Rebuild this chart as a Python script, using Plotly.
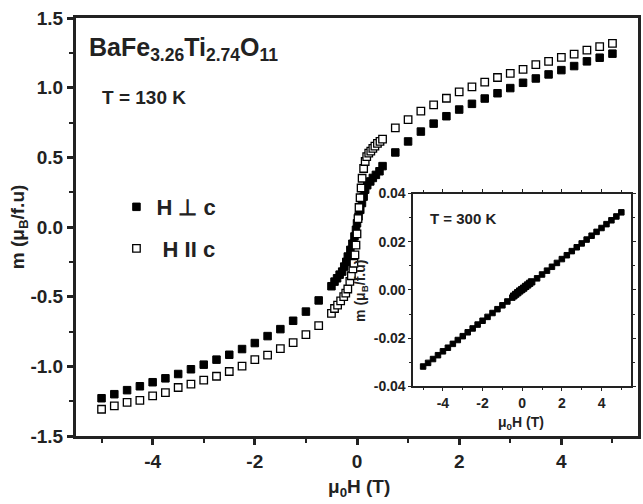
import plotly.graph_objects as go

# ---- main panel: T = 130 K, two field orientations ----
h_perp = [-5.0, -4.75, -4.5, -4.25, -4.0, -3.75, -3.5, -3.25, -3.0, -2.75, -2.5, -2.25,
          -2.0, -1.75, -1.5, -1.25, -1.0, -0.75,
          -0.5, -0.44, -0.39, -0.34, -0.29, -0.25, -0.21, -0.18, -0.13, -0.09, -0.05, -0.02,
          0.0, 0.03, 0.064, 0.097, 0.13, 0.16, 0.2, 0.26, 0.31, 0.37, 0.44, 0.5,
          0.75, 1.0, 1.25, 1.5, 1.75, 2.0, 2.25, 2.5, 2.75, 3.0, 3.25, 3.5, 3.75, 4.0,
          4.25, 4.5, 4.75, 5.0]
m_perp = [-1.229, -1.2, -1.171, -1.143, -1.114, -1.086, -1.055, -1.021, -0.988, -0.952, -0.917, -0.876,
          -0.833, -0.783, -0.733, -0.673, -0.607, -0.527,
          -0.425, -0.392, -0.368, -0.342, -0.32, -0.284, -0.25, -0.212, -0.164, -0.12, -0.068, -0.02,
          0.027, 0.076, 0.123, 0.172, 0.218, 0.268, 0.30, 0.327, 0.352, 0.374, 0.40, 0.437,
          0.535, 0.614, 0.685, 0.742, 0.795, 0.843, 0.884, 0.922, 0.96, 0.997, 1.035, 1.066, 1.095, 1.126,
          1.155, 1.189, 1.215, 1.244]

h_par = [-5.0, -4.75, -4.5, -4.25, -4.0, -3.75, -3.5, -3.25, -3.0, -2.75, -2.5, -2.25,
         -2.0, -1.75, -1.5, -1.25, -1.0, -0.75,
         -0.5, -0.44, -0.38, -0.32, -0.26, -0.22, -0.18, -0.14, -0.11, -0.08, -0.06, -0.04, -0.02,
         0.0, 0.02, 0.04, 0.06, 0.08, 0.1, 0.13, 0.16, 0.19, 0.23, 0.27, 0.31, 0.35, 0.4, 0.45, 0.5,
         0.75, 1.0, 1.25, 1.5, 1.75, 2.0, 2.25, 2.5, 2.75, 3.0, 3.25, 3.5, 3.75, 4.0,
         4.25, 4.5, 4.75, 5.0]
m_par = [-1.308, -1.284, -1.258, -1.244, -1.212, -1.188, -1.152, -1.128, -1.099, -1.071, -1.037, -0.999,
         -0.952, -0.92, -0.873, -0.83, -0.773, -0.708,
         -0.62, -0.585, -0.56, -0.53, -0.5, -0.475, -0.445, -0.39, -0.35, -0.3, -0.26, -0.2, -0.13,
         -0.05, 0.06, 0.14, 0.21, 0.28, 0.35, 0.42, 0.47, 0.505, 0.53, 0.545, 0.565, 0.58, 0.6, 0.615, 0.63,
         0.711, 0.771, 0.831, 0.877, 0.924, 0.97, 1.006, 1.04, 1.073, 1.102, 1.131, 1.165, 1.188, 1.217,
         1.241, 1.27, 1.294, 1.318]

# ---- inset: T = 300 K ----
h_300 = [-5.0, -4.75, -4.5, -4.25, -4.0, -3.75, -3.5, -3.25, -3.0, -2.75, -2.5, -2.25,
         -2.0, -1.75, -1.5, -1.25, -1.0, -0.75, -0.5, -0.4, -0.3, -0.2, -0.1, 0.0,
         0.1, 0.2, 0.3, 0.4, 0.5, 0.75, 1.0, 1.25, 1.5, 1.75, 2.0, 2.25, 2.5, 2.75,
         3.0, 3.25, 3.5, 3.75, 4.0, 4.25, 4.5, 4.75, 5.0,
         -0.45, -0.35, -0.25, -0.15, -0.05, 0.05, 0.15, 0.25, 0.35, 0.45]
m_300 = [-0.0318, -0.0303, -0.0287, -0.0271, -0.0255, -0.0240, -0.0224, -0.0208, -0.0192, -0.0176, -0.0160, -0.0144,
         -0.0128, -0.0112, -0.0096, -0.0080, -0.0064, -0.0048, -0.0032, -0.0026, -0.0019, -0.0013, -0.0006, 0.0,
         0.0006, 0.0013, 0.0019, 0.0026, 0.0032, 0.0048, 0.0064, 0.0080, 0.0096, 0.0112, 0.0128, 0.0144, 0.0161, 0.0177,
         0.0193, 0.0209, 0.0225, 0.0241, 0.0257, 0.0273, 0.0289, 0.0305, 0.0322,
         -0.0024, -0.0017, -0.0010, -0.0003, 0.0003, 0.0009, 0.0016, 0.0022, 0.0029, 0.0035]

main_xticks = [-4, -2, 0, 2, 4]
main_xlabels = ["-4", "-2", "0", "2", "4"]
main_yticks = [-1.5, -1.0, -0.5, 0.0, 0.5, 1.0, 1.5]
main_ylabels = ["-1.5", "-1.0", "-0.5", "0.0", "0.5", "1.0", "1.5"]
inset_xticks = [-4, -2, 0, 2, 4]
inset_xlabels = ["-4", "-2", "0", "2", "4"]
inset_yticks = [-0.04, -0.02, 0.0, 0.02, 0.04]
inset_ylabels = ["-0.04", "-0.02", "0.00", "0.02", "0.04"]

FONT = "Arial, Liberation Sans, Helvetica, sans-serif"

fig = go.Figure()
fig.add_trace(go.Scatter(
    x=h_perp, y=m_perp, mode="markers", name="H \u22a5 c", legendgroup="a",
    marker=dict(symbol="square", size=7.5, color="black", line=dict(color="black", width=1)),
))
fig.add_trace(go.Scatter(
    x=h_par, y=m_par, mode="markers", name="\u00a0H II c", legendgroup="b",
    marker=dict(symbol="square", size=7.5, color="white", line=dict(color="black", width=1.3)),
))
fig.add_trace(go.Scatter(
    x=h_300, y=m_300, mode="markers", showlegend=False, xaxis="x2", yaxis="y2",
    marker=dict(symbol="square", size=5.5, color="black", line=dict(color="black", width=1)),
))

tickfont_main = dict(family=FONT, size=19, color="#222", weight="bold")
tickfont_inset = dict(family=FONT, size=14, color="#222", weight="bold")

fig.update_layout(
    width=643, height=504,
    margin=dict(l=76, r=2, t=18, b=68),
    paper_bgcolor="white", plot_bgcolor="white",
    showlegend=True,
    legend=dict(x=0.072, y=0.598, xanchor="left", yanchor="top",
                font=dict(family=FONT, size=22, color="#222", weight="bold"),
                bgcolor="rgba(0,0,0,0)", tracegroupgap=10, itemwidth=30),
    xaxis=dict(domain=[0, 1], range=[-5.5, 5.5], showgrid=False, zeroline=False,
               showline=True, linewidth=3, linecolor="#222", mirror=True,
               ticks="outside", ticklen=6, tickwidth=2.5, tickcolor="#222",
               tickvals=main_xticks, ticktext=main_xlabels, tickfont=tickfont_main,
               minor=dict(tickvals=[-5, -3, -1, 1, 3, 5], ticks="outside", ticklen=4,
                          tickwidth=2, tickcolor="#222")),
    yaxis=dict(domain=[0, 1], range=[-1.5, 1.5], showgrid=False, zeroline=False,
               showline=True, linewidth=3, linecolor="#222", mirror=True,
               ticks="outside", ticklen=6, tickwidth=2.5, tickcolor="#222",
               tickvals=main_yticks, ticktext=main_ylabels, tickfont=tickfont_main,
               minor=dict(tickvals=[-1.25, -0.75, -0.25, 0.25, 0.75, 1.25], ticks="outside",
                          ticklen=4, tickwidth=2, tickcolor="#222")),
    xaxis2=dict(domain=[0.600, 0.988], anchor="y2", range=[-5.5, 5.5], showgrid=False,
                zeroline=False, showline=True, linewidth=1.5, linecolor="#222", mirror="ticks",
                ticks="outside", ticklen=3, tickwidth=1.2, tickcolor="#222",
                tickvals=inset_xticks, ticktext=inset_xlabels, tickfont=tickfont_inset,
                minor=dict(tickvals=[-5, -3, -1, 1, 3, 5], ticks="outside", ticklen=2,
                           tickwidth=1, tickcolor="#222")),
    yaxis2=dict(domain=[0.119, 0.580], anchor="x2", range=[-0.04, 0.04], showgrid=False,
                zeroline=False, showline=True, linewidth=1.5, linecolor="#222", mirror="ticks",
                ticks="outside", ticklen=3, tickwidth=1.2, tickcolor="#222",
                tickvals=inset_yticks, ticktext=inset_ylabels, tickfont=tickfont_inset,
                minor=dict(tickvals=[-0.03, -0.01, 0.01, 0.03], ticks="outside", ticklen=2,
                           tickwidth=1, tickcolor="#222")),
)

def note(text, x, y, size, xanchor="left", angle=0):
    fig.add_annotation(text=text, x=x, y=y, xref="paper", yref="paper",
                       xanchor=xanchor, yanchor="middle", showarrow=False, textangle=angle,
                       font=dict(family=FONT, size=size, color="#222", weight="bold"))

note("BaFe<sub>3.26</sub>Ti<sub>2.74</sub>O<sub>11</sub>", 0.019, 0.925, 25)
note("T = 130 K", 0.042, 0.809, 19)
note("T = 300 K", 0.627, 0.520, 15)
note("m (\u03bc<sub>B</sub>/f.u)", -0.101, 0.50, 19, xanchor="center", angle=-90)
note("\u03bc<sub>0</sub>H (T)", 0.503, -0.124, 19, xanchor="center")
note("\u03bc<sub>0</sub>H (T)", 0.791, 0.030, 14, xanchor="center")
note("m (\u03bc<sub>B</sub>/f.u)", 0.506, 0.348, 14, xanchor="center", angle=-90)

fig.write_html("out.html")
